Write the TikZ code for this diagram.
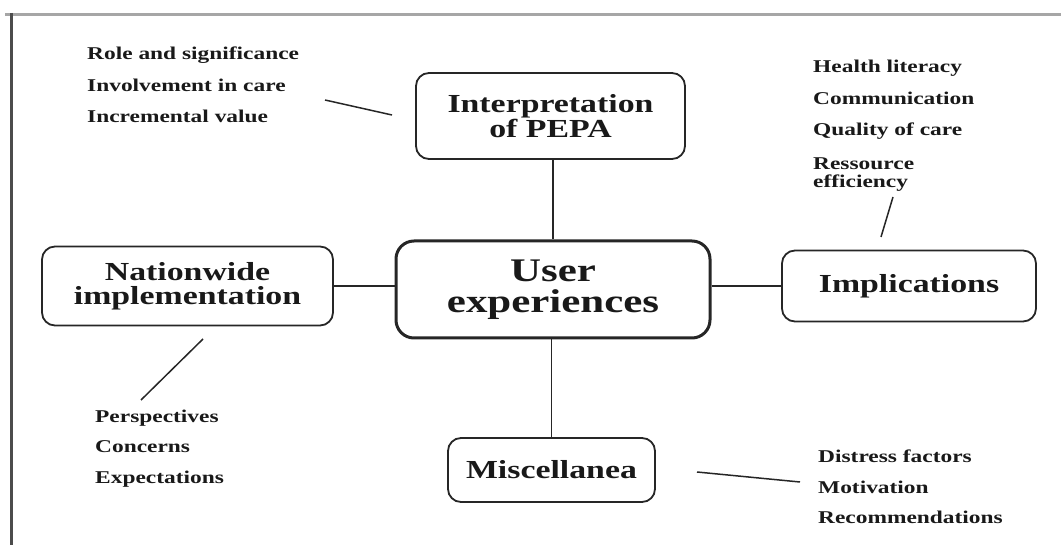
\documentclass[tikz,border=0pt]{standalone}
\usepackage{fontspec}
\setmainfont{Liberation Serif}
\newfontfamily\widefont[FakeStretch=1.3]{Liberation Serif}
\begin{document}
\begin{tikzpicture}[x=1pt,y=-1pt,
  box/.style={draw=black!85, line width=1.8pt, rounded corners=13pt, inner sep=0pt,
    align=center, text=black!90, font=\widefont\bfseries\fontsize{26}{24.5}\selectfont},
  mainbox/.style={box, line width=3pt, rounded corners=18pt,
    font=\widefont\bfseries\fontsize{33}{31}\selectfont},
  lbl/.style={anchor=base west, inner sep=0pt, text=black!90,
    font=\widefont\bfseries\fontsize{18}{18}\selectfont},
  link/.style={draw=black!85, line width=1.6pt},
  tick/.style={draw=black!85, line width=1.5pt}
]
\useasboundingbox (0,0) rectangle (1061,545);
% frame
\draw[black!35, line width=3pt] (5,14.5) -- (1061,14.5);
\draw[black!70, line width=2.5pt] (11.5,13) -- (11.5,545);

% boxes
\node[box, minimum width=269pt, minimum height=86pt] (interp) at (550.5,116) {Interpretation\\of PEPA};
\node[mainbox, minimum width=314pt, minimum height=97pt] (user) at (553,289.5) {User\\experiences};
\node[box, minimum width=291pt, minimum height=79pt] (nation) at (187.5,286) {Nationwide\\implementation};
\node[box, minimum width=254pt, minimum height=71pt] (impl) at (909,286) {Implications};
\node[box, minimum width=207pt, minimum height=64pt] (misc) at (551.5,470) {Miscellanea};

% connectors
\draw[link] (interp.south -| user.north) -- (user.north);
\draw[link] (nation.east) -- (nation.east -| user.west);
\draw[link] (user.east |- impl.west) -- (impl.west);
\draw[link] (misc.north |- user.south) -- (misc.north);

% labels top left
\node[lbl] (role) at (87,60) {Role and significance};
\node[lbl] (invol) at (87,92) {Involvement in care};
\node[lbl] (incr) at (87,123) {Incremental value};
% labels top right
\node[lbl] (health) at (813,73) {Health literacy};
\node[lbl] (comm) at (813,105) {Communication};
\node[lbl] (qual) at (813,136) {Quality of care};
\node[lbl] (ress) at (813,170) {Ressource};
\node[lbl] (eff) at (813,188) {efficiency};
% labels bottom left
\node[lbl] (persp) at (95,422) {Perspectives};
\node[lbl] (conc) at (95,452) {Concerns};
\node[lbl] (expe) at (95,483) {Expectations};
% labels bottom right
\node[lbl] (dist) at (818,462) {Distress factors};
\node[lbl] (moti) at (818,493) {Motivation};
\node[lbl] (reco) at (818,523) {Recommendations};

% tick lines
\coordinate (a1) at (325,100); \coordinate (a2) at (392,115);
\coordinate (b1) at (893,197); \coordinate (b2) at (881,237);
\coordinate (c1) at (203,339); \coordinate (c2) at (141,400);
\coordinate (d1) at (697,472); \coordinate (d2) at (800,482);
\draw[tick] (a1) -- (a2);
\draw[tick] (b1) -- (b2);
\draw[tick] (c1) -- (c2);
\draw[tick] (d1) -- (d2);
\end{tikzpicture}
\end{document}
